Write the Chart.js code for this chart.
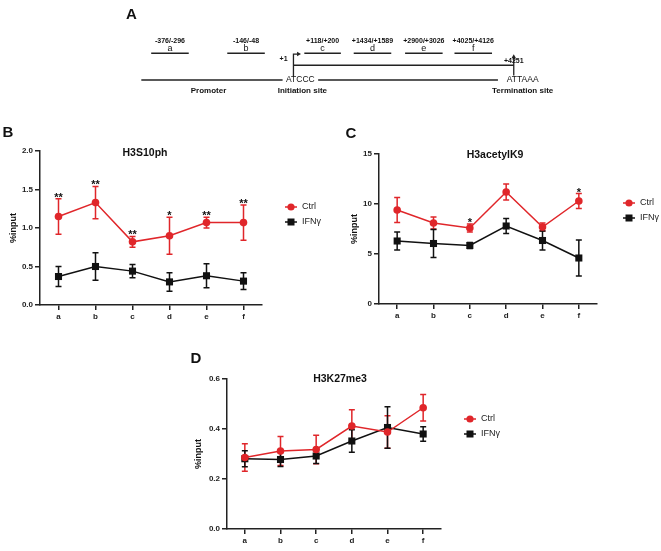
<!doctype html>
<html lang="en">
<head>
<meta charset="UTF-8">
<title>Histone marks along the gene</title>
<script src="https://cdn.jsdelivr.net/npm/chart.js"></script>
<style>
  body { margin: 0; background: #fff; }
  #wrap { position: relative; width: 661px; height: 551px; }
  canvas { position: absolute; }
</style>
</head>
<body>
<div id="wrap">
  <canvas id="panel-a" width="661" height="110" style="left:0;top:0"></canvas>
  <canvas id="panel-b" width="330" height="220" style="left:0;top:110px"></canvas>
  <canvas id="panel-c" width="331" height="220" style="left:330px;top:110px"></canvas>
  <canvas id="panel-d" width="330" height="221" style="left:190px;top:330px"></canvas>
</div>
<script>
// amplified regions
const regions = ['a', 'b', 'c', 'd', 'e', 'f'];
const regionCoords = ['-376/-296', '-146/-48', '+118/+200', '+1434/+1589', '+2900/+3026', '+4025/+4126'];

// schematic positions of the primers in panel A (diagram units)
const regionStart = [149, 226, 304, 354, 406, 456];
const regionEnd = [187, 264, 341, 392, 444, 494];
const promoterLine = [139, 282];
const geneLine = [318, 500];
const tssX = 293;
const ttsX = 516;

// B: H3S10ph
const h3s10Ctrl = [1.15, 1.33, 0.82, 0.90, 1.07, 1.07];
const h3s10CtrlErr = [0.23, 0.21, 0.07, 0.24, 0.07, 0.23];
const h3s10Ifn = [0.37, 0.50, 0.44, 0.30, 0.38, 0.31];
const h3s10IfnErr = [0.13, 0.18, 0.085, 0.12, 0.155, 0.11];
const h3s10Sig = ['**', '**', '**', '*', '**', '**'];

// C: H3acetylK9
const h3k9Ctrl = [9.4, 8.1, 7.6, 11.2, 7.7, 10.3];
const h3k9CtrlErr = [1.25, 0.6, 0.4, 0.8, 0.4, 0.75];
const h3k9Ifn = [6.3, 6.05, 5.85, 7.8, 6.35, 4.6];
const h3k9IfnErr = [0.9, 1.4, 0.3, 0.75, 0.95, 1.8];
const h3k9Sig = ['', '', '*', '', '', '*'];

// D: H3K27me3
const h3k27Ctrl = [0.286, 0.312, 0.318, 0.412, 0.388, 0.485];
const h3k27CtrlErr = [0.055, 0.058, 0.057, 0.065, 0.065, 0.053];
const h3k27Ifn = [0.281, 0.278, 0.292, 0.352, 0.406, 0.380];
const h3k27IfnErr = [0.032, 0.028, 0.03, 0.045, 0.083, 0.029];
const h3k27Sig = ['', '', '', '', '', ''];

const FONT = '"Liberation Sans", Arial, sans-serif';
const RED = '#e0262a';
const BLACK = '#111';

// ---------- panel A: gene diagram ----------
function seg(x0, x1, y) {
  return { data: [{ x: x0, y: y }, { x: x1, y: y }], borderColor: '#222', borderWidth: 1.5, pointRadius: 0, showLine: true };
}

function createDiagram() {
  const sets = [];
  for (let i = 0; i < regions.length; i++) sets.push(seg(regionStart[i], regionEnd[i], 53));
  sets.push(seg(promoterLine[0], promoterLine[1], 82));
  sets.push(seg(geneLine[0], geneLine[1], 82));
  // initiation arrow
  sets.push({ data: [{ x: tssX, y: 78 }, { x: tssX, y: 54 }, { x: tssX + 4, y: 54 }], borderColor: '#222', borderWidth: 1.3, pointRadius: 0, showLine: true });
  sets.push({ data: [{ x: tssX + 5, y: 54 }], pointStyle: 'triangle', rotation: 90, pointRadius: 2.6, backgroundColor: '#222', borderColor: '#222', borderWidth: 0 });
  // transcript bracket
  sets.push(seg(tssX, ttsX, 66));
  sets.push({ data: [{ x: ttsX, y: 77 }, { x: ttsX, y: 58 }], borderColor: '#222', borderWidth: 1.3, pointRadius: 0, showLine: true });
  sets.push({ data: [{ x: ttsX, y: 57 }], pointStyle: 'triangle', rotation: 0, pointRadius: 2.6, backgroundColor: '#222', borderColor: '#222', borderWidth: 0 });

  const labels = {
    id: 'diagramLabels',
    afterDraw(chart) {
      const ctx = chart.ctx, sx = chart.scales.x, sy = chart.scales.y;
      ctx.save();
      ctx.fillStyle = '#111';
      ctx.textAlign = 'center';
      ctx.textBaseline = 'middle';
      ctx.font = 'bold 15px ' + FONT;
      ctx.fillText('A', sx.getPixelForValue(129), sy.getPixelForValue(12));
      for (let i = 0; i < regions.length; i++) {
        const cx = sx.getPixelForValue((regionStart[i] + regionEnd[i]) / 2);
        ctx.font = 'bold 7px ' + FONT;
        ctx.fillText(regionCoords[i], cx, sy.getPixelForValue(39.5));
        ctx.font = '9px ' + FONT;
        ctx.fillText(regions[i], cx, sy.getPixelForValue(47.5));
      }
      ctx.font = 'bold 7px ' + FONT;
      ctx.fillText('+1', sx.getPixelForValue(283), sy.getPixelForValue(59));
      ctx.fillText('+4251', sx.getPixelForValue(ttsX), sy.getPixelForValue(61));
      ctx.font = '8.5px ' + FONT;
      ctx.fillText('ATCCC', sx.getPixelForValue(300), sy.getPixelForValue(82));
      ctx.fillText('ATTAAA', sx.getPixelForValue(525), sy.getPixelForValue(82));
      ctx.font = 'bold 8px ' + FONT;
      ctx.fillText('Promoter', sx.getPixelForValue(207), sy.getPixelForValue(93.5));
      ctx.fillText('Initiation site', sx.getPixelForValue(302), sy.getPixelForValue(93.5));
      ctx.fillText('Termination site', sx.getPixelForValue(525), sy.getPixelForValue(93.5));
      ctx.restore();
    }
  };

  new Chart(document.getElementById('panel-a'), {
    type: 'scatter',
    data: { datasets: sets },
    options: {
      responsive: false,
      animation: false,
      layout: { padding: 0 },
      plugins: { legend: { display: false }, tooltip: { enabled: false } },
      scales: {
        x: { type: 'linear', min: 0, max: 661, display: false },
        y: { type: 'linear', min: 0, max: 110, reverse: true, display: false }
      }
    },
    plugins: [labels]
  });
}

// ---------- error bars drawn from each dataset's errors ----------
const errorBars = {
  id: 'errorBars',
  beforeDatasetsDraw(chart) {
    const ctx = chart.ctx, sy = chart.scales.y;
    ctx.save();
    chart.data.datasets.forEach((ds, di) => {
      const meta = chart.getDatasetMeta(di);
      ctx.strokeStyle = ds.borderColor;
      ctx.lineWidth = 1.5;
      meta.data.forEach((pt, i) => {
        const v = ds.data[i], e = ds.errors[i];
        const top = sy.getPixelForValue(v + e), bot = sy.getPixelForValue(v - e);
        ctx.beginPath();
        ctx.moveTo(pt.x, top); ctx.lineTo(pt.x, bot);
        ctx.moveTo(pt.x - 3, top); ctx.lineTo(pt.x + 3, top);
        ctx.moveTo(pt.x - 3, bot); ctx.lineTo(pt.x + 3, bot);
        ctx.stroke();
      });
    });
    ctx.restore();
  }
};

// ---------- one line chart panel ----------
function createPanel(id, o) {
  const tickFont = { family: FONT, size: 8, weight: 'bold' };
  const text = {
    id: 'panelText',
    afterDraw(chart) {
      const ctx = chart.ctx, sy = chart.scales.y, area = chart.chartArea;
      ctx.save();
      ctx.fillStyle = '#111';
      ctx.textAlign = 'center';
      ctx.textBaseline = 'middle';
      ctx.font = 'bold 15px ' + FONT;
      ctx.fillText(o.letter, o.letterPos[0], o.letterPos[1]);
      ctx.font = 'bold 10.5px ' + FONT;
      ctx.fillText(o.title, o.titleX, o.titleY);
      // y axis title
      ctx.save();
      ctx.translate(o.yTitleX, (area.top + area.bottom) / 2);
      ctx.rotate(-Math.PI / 2);
      ctx.font = 'bold 9px ' + FONT;
      ctx.fillText('%input', 0, 0);
      ctx.restore();
      // significance marks
      ctx.font = 'bold 11px ' + FONT;
      ctx.textBaseline = 'alphabetic';
      const meta = chart.getDatasetMeta(0);
      o.sig.forEach((s, i) => {
        if (!s) return;
        const top = Math.max(o.ctrl[i] + o.ctrlErr[i], o.ifn[i] + o.ifnErr[i]);
        ctx.fillText(s, meta.data[i].x, sy.getPixelForValue(top) + 2);
      });
      // legend
      chart.data.datasets.forEach((ds, di) => {
        const y = o.legY[di];
        ctx.strokeStyle = ds.borderColor;
        ctx.lineWidth = 1.5;
        ctx.beginPath();
        ctx.moveTo(o.legX - 6, y); ctx.lineTo(o.legX + 6, y);
        ctx.stroke();
        ctx.fillStyle = ds.backgroundColor;
        if (ds.pointStyle === 'circle') {
          ctx.beginPath(); ctx.arc(o.legX, y, 3.6, 0, Math.PI * 2); ctx.fill();
        } else {
          ctx.fillRect(o.legX - 3.5, y - 3.5, 7, 7);
        }
        ctx.fillStyle = '#222';
        ctx.textAlign = 'left';
        ctx.textBaseline = 'middle';
        ctx.font = '9px ' + FONT;
        ctx.fillText(ds.label, o.legX + 11, y);
      });
      ctx.restore();
    }
  };

  new Chart(document.getElementById(id), {
    type: 'line',
    data: {
      labels: regions,
      datasets: [
        { label: 'Ctrl', data: o.ctrl, errors: o.ctrlErr, borderColor: RED, backgroundColor: RED,
          pointStyle: 'circle', pointRadius: 3.8, pointBorderWidth: 0, borderWidth: 1.5 },
        { label: 'IFNγ', data: o.ifn, errors: o.ifnErr, borderColor: BLACK, backgroundColor: BLACK,
          pointStyle: 'rect', pointRadius: 5, pointBorderWidth: 0, borderWidth: 1.5 }
      ]
    },
    options: {
      responsive: false,
      animation: false,
      layout: { padding: o.pad },
      plugins: { legend: { display: false }, tooltip: { enabled: false } },
      scales: {
        x: {
          offset: true,
          grid: { display: true, drawOnChartArea: false, offset: false, tickLength: 5, color: '#222', lineWidth: 1.5 },
          border: { color: '#222', width: 1.5 },
          ticks: { font: tickFont, color: '#222', padding: 2 },
          afterFit: s => { s.height = o.xh; }
        },
        y: {
          min: o.min, max: o.max,
          grid: { display: true, drawOnChartArea: false, tickLength: 5, color: '#222', lineWidth: 1.5 },
          border: { color: '#222', width: 1.5 },
          ticks: { font: tickFont, color: '#222', padding: 2, stepSize: o.step, callback: v => v.toFixed(o.dec) },
          afterFit: s => { s.width = o.yw; }
        }
      }
    },
    plugins: [errorBars, text]
  });
}

createDiagram();

createPanel('panel-b', {
  letter: 'B', letterPos: [8, 23], title: 'H3S10ph', titleX: 145, titleY: 43, yTitleX: 14,
  ctrl: h3s10Ctrl, ctrlErr: h3s10CtrlErr, ifn: h3s10Ifn, ifnErr: h3s10IfnErr, sig: h3s10Sig,
  min: 0, max: 2, step: 0.5, dec: 1,
  pad: { left: 0, right: 68, top: 41, bottom: 0 }, yw: 40, xh: 25,
  legX: 291, legY: [97, 112]
});

createPanel('panel-c', {
  letter: 'C', letterPos: [21, 24], title: 'H3acetylK9', titleX: 165, titleY: 45, yTitleX: 25,
  ctrl: h3k9Ctrl, ctrlErr: h3k9CtrlErr, ifn: h3k9Ifn, ifnErr: h3k9IfnErr, sig: h3k9Sig,
  min: 0, max: 15, step: 5, dec: 0,
  pad: { left: 0, right: 64, top: 44, bottom: 0 }, yw: 49, xh: 26,
  legX: 299, legY: [93, 108]
});

createPanel('panel-d', {
  letter: 'D', letterPos: [6, 29], title: 'H3K27me3', titleX: 150, titleY: 49, yTitleX: 9,
  ctrl: h3k27Ctrl, ctrlErr: h3k27CtrlErr, ifn: h3k27Ifn, ifnErr: h3k27IfnErr, sig: h3k27Sig,
  min: 0, max: 0.6, step: 0.2, dec: 1,
  pad: { left: 0, right: 79, top: 49, bottom: 0 }, yw: 37, xh: 22,
  legX: 280, legY: [89, 104]
});
</script>
</body>
</html>
